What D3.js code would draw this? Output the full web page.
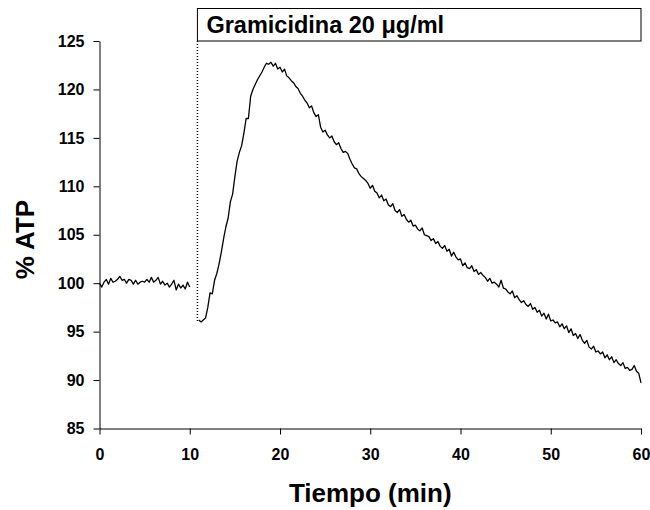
<!DOCTYPE html>
<meta charset="utf-8">
<style>
body { margin: 0; background: #fff; }
svg text { font-family: "Liberation Sans", Arial, sans-serif; font-weight: bold; fill: #000; }
</style>
<svg width="650" height="510"></svg>
<script src="https://d3js.org/d3.v7.min.js"></script>
<script>

// sampling every 0.25 min
var step = 0.25;

// before addition: 0 .. 10 min
var preStart = 0;
var preValues = [
  100.0, 99.6, 100.1, 100.4, 99.9, 100.5, 100.1, 100.2,
  100.4, 100.7, 100.3, 100.4, 100.0, 100.4, 100.3, 99.9,
  100.3, 99.9, 100.1, 100.2, 100.1, 100.4, 100.1, 100.6,
  100.1, 100.3, 100.6, 99.9, 100.2, 99.8, 100.0, 99.6,
  99.9, 100.3, 99.3, 99.9, 99.5, 99.8, 99.4, 100.1,
  99.6
];

// after gramicidin: 11 .. 60 min
var postStart = 11;
var postValues = [
  96.2, 96.0, 96.2, 96.4, 97.5, 99.0, 98.9, 100.3,
  101.0, 102.0, 103.2, 104.6, 105.8, 106.7, 108.4, 109.2,
  111.0, 112.6, 113.5, 114.2, 115.5, 117.0, 117.0, 119.3,
  120.0, 120.5, 121.0, 121.4, 121.8, 122.3, 122.7, 122.6,
  122.8, 122.4, 122.7, 122.1, 122.3, 121.8, 122.1, 121.4,
  121.2, 120.9, 120.7, 120.3, 120.1, 119.6, 119.3, 118.9,
  118.6, 118.1, 118.3, 117.6, 117.2, 117.4, 116.1, 115.6,
  115.8, 115.3, 115.0, 115.2, 114.6, 114.3, 114.5, 113.9,
  113.5, 113.6, 113.4, 112.8, 112.3, 111.9, 111.8, 111.3,
  111.0, 110.8, 110.6, 110.3, 109.8, 110.1, 109.5, 109.3,
  108.8, 109.1, 108.5, 108.7, 108.1, 107.9, 108.2, 107.5,
  107.3, 107.6, 106.9, 107.1, 106.6, 106.3, 106.5, 105.9,
  106.0, 105.6, 105.4, 105.7, 105.0, 104.9, 104.8, 104.4,
  104.6, 104.1, 104.3, 103.8, 103.6, 103.9, 103.3, 103.5,
  102.8, 103.2, 102.7, 102.4, 102.5, 101.8, 102.1, 101.6,
  101.5, 101.8, 101.2, 101.4, 100.9, 101.1, 100.8, 100.6,
  100.2, 100.5, 100.0, 100.1, 99.9, 99.6, 100.3, 99.5,
  99.4, 99.1, 98.9, 99.2, 98.5, 98.7, 98.3, 98.0,
  98.2, 97.8, 97.6, 97.9, 97.3, 97.5, 97.0, 97.2,
  96.6, 96.9, 96.3, 96.8, 96.1, 96.2, 95.9, 96.0,
  95.5, 95.8, 95.3, 95.6, 94.9, 95.3, 94.6, 94.8,
  94.3, 94.7, 94.1, 93.8, 94.1, 93.4, 93.2, 93.5,
  92.9, 93.0, 92.7, 92.9, 92.3, 92.6, 92.1, 92.4,
  91.8, 92.1, 91.7, 91.5, 91.8, 91.2, 91.3, 91.0,
  91.1, 91.5, 90.9, 90.7,
  89.7
];

var additionTime = 10.85;
var additionLow = 96;
var xTicks = [0, 10, 20, 30, 40, 50, 60];
var yTicks = [85, 90, 95, 100, 105, 110, 115, 120, 125];
var boxLabel = "Gramicidina 20 \u03bcg/ml";
var xTitle = "Tiempo (min)";
var yTitle = "% ATP";

var svg = d3.select("svg");

var x = d3.scaleLinear().domain([0, 60]).range([99.5, 641]);
var y = d3.scaleLinear().domain([85, 125]).range([428.5, 41]);

function toPoints(start, vals) {
  return vals.map(function(v, i) { return [start + i * step, v]; });
}

var line = d3.line()
    .x(function(d) { return x(d[0]); })
    .y(function(d) { return y(d[1]); });

// axes
svg.append("g")
    .attr("transform", "translate(0," + y(85) + ")")
    .call(d3.axisBottom(x).tickValues(xTicks).tickSize(6).tickSizeOuter(0).tickPadding(14))
    .call(function(g) {
      g.selectAll("text").style("font-size", "16px");
      g.selectAll("line, path").attr("stroke", "#000");
    });

svg.append("g")
    .attr("transform", "translate(" + x(0) + ",0)")
    .call(d3.axisLeft(y).tickValues(yTicks).tickSize(6).tickSizeOuter(0).tickPadding(9))
    .call(function(g) {
      g.selectAll("text").style("font-size", "16px");
      g.selectAll("line, path").attr("stroke", "#000");
    });

// addition marker
svg.append("line")
    .attr("x1", x(additionTime)).attr("x2", x(additionTime))
    .attr("y1", y(125)).attr("y2", y(additionLow))
    .attr("stroke", "#000")
    .attr("stroke-width", 1.5)
    .attr("stroke-dasharray", "1,2");

svg.append("rect")
    .attr("x", x(additionTime))
    .attr("y", 8.5)
    .attr("width", x(60) - x(additionTime))
    .attr("height", y(125) - 8.5)
    .attr("fill", "#fff")
    .attr("stroke", "#000");

svg.append("text")
    .attr("x", x(additionTime) + 9)
    .attr("y", 33)
    .style("font-size", "23.5px")
    .text(boxLabel);

// traces
[toPoints(preStart, preValues), toPoints(postStart, postValues)].forEach(function(pts) {
  svg.append("path")
      .datum(pts)
      .attr("fill", "none")
      .attr("stroke", "#000")
      .attr("stroke-width", 1.3)
      .attr("stroke-linejoin", "round")
      .attr("d", line);
});

// titles
svg.append("text")
    .attr("x", x(30))
    .attr("y", 502)
    .attr("text-anchor", "middle")
    .style("font-size", "26px")
    .text(xTitle);

svg.append("text")
    .attr("transform", "translate(34," + y(104.5) + ") rotate(-90)")
    .attr("text-anchor", "middle")
    .style("font-size", "26px")
    .text(yTitle);

</script>
